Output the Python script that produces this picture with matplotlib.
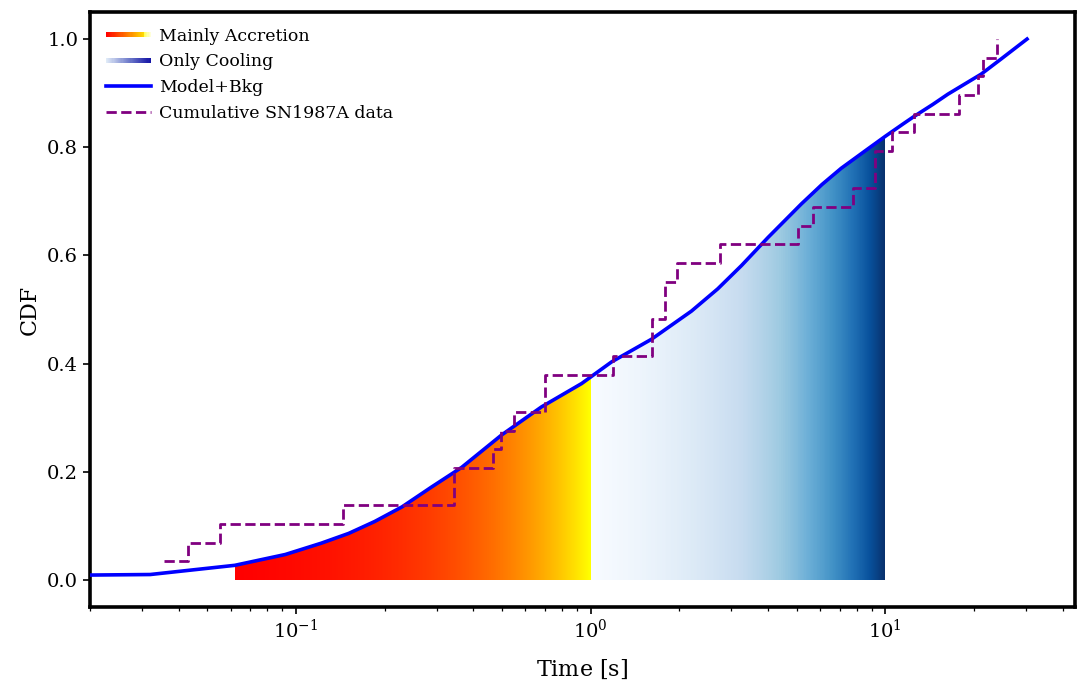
import numpy as np
import matplotlib
matplotlib.use("Agg")
import matplotlib.pyplot as plt
from matplotlib.patches import Polygon, Rectangle
from matplotlib.lines import Line2D
from matplotlib.legend_handler import HandlerBase
from matplotlib.colors import LinearSegmentedColormap

plt.rcParams['font.family'] = ['DejaVu Serif']
plt.rcParams['mathtext.fontset'] = 'dejavuserif'

# ---- data ----
model_t = [0.02, 0.032, 0.062, 0.092, 0.122, 0.151, 0.185, 0.229, 0.289, 0.365,
           0.499, 0.682, 0.932, 1.178, 1.61, 2.20, 2.7, 3.25, 4.0, 5.19, 6.1,
           7.09, 8.74, 10.0, 11.5, 12.54, 14.5, 16.32, 21.16, 24.73, 30.3]
model_cdf = [0.009, 0.010, 0.027, 0.047, 0.068, 0.086, 0.108, 0.135, 0.172, 0.208,
             0.268, 0.320, 0.363, 0.403, 0.445, 0.497, 0.538, 0.581, 0.633, 0.695,
             0.731, 0.761, 0.797, 0.820, 0.843, 0.857, 0.879, 0.898, 0.935, 0.963, 1.0]

event_t = [0.0356, 0.0430, 0.0551, 0.144, 0.344, 0.344, 0.468, 0.496, 0.550,
           0.700, 0.700, 1.194, 1.61, 1.61, 1.796, 1.796, 1.972, 2.759, 5.06,
           5.69, 7.77, 9.20, 9.20, 10.54, 12.57, 17.86, 20.62, 21.54, 23.97]
n_events = len(event_t)
event_cdf = [(i + 1) / n_events for i in range(n_events)]

accretion_range = (0.062, 1.0)
cooling_range = (1.0, 10.0)

# ---- figure ----
fig = plt.figure(figsize=(10.78, 6.81), dpi=100)
ax = fig.add_axes([0.0835, 0.1087, 0.9135, 0.8737])
ax.set_xscale('log')

mt = np.array(model_t)
mc = np.array(model_cdf)


def curve_at(t):
    return np.interp(np.log10(t), np.log10(mt), mc)


def gradient_fill(t0, t1, cmap, n=400):
    sel = (mt > t0) & (mt < t1)
    xs = np.concatenate([[t0], mt[sel], [t1]])
    ys = np.concatenate([[curve_at(t0)], mc[sel], [curve_at(t1)]])
    verts = list(zip(xs, ys)) + [(t1, 0.0), (t0, 0.0)]
    poly = Polygon(verts, closed=True, transform=ax.transData)
    xe = np.linspace(t0, t1, n + 1)
    ye = np.array([0.0, 1.05])
    C = np.linspace(0, 1, n).reshape(1, n)
    mesh = ax.pcolormesh(xe, ye, C, cmap=cmap, vmin=0, vmax=1,
                         shading='flat', zorder=1, antialiased=False,
                         linewidth=0)
    mesh.set_clip_path(poly)


gradient_fill(*accretion_range, plt.get_cmap('autumn'))
gradient_fill(*cooling_range, plt.get_cmap('Blues'))

ax.plot(mt, mc, color='blue', lw=2.6, zorder=3)
ax.step(event_t, event_cdf, where='post', color='purple', lw=2.0,
        ls=(0, (3.7, 1.6)), zorder=4)

ax.set_xlim(0.02, 44)
ax.set_ylim(-0.05, 1.05)

for s in ax.spines.values():
    s.set_linewidth(2.6)
ax.tick_params(axis='both', which='major', labelsize=14, length=5, width=1.2)
ax.tick_params(axis='both', which='minor', length=3, width=0.9)

ax.set_xlabel(r'Time $[\mathrm{s}]$', fontsize=16, labelpad=11)
ax.set_ylabel('CDF', fontsize=16, labelpad=5)


# ---- legend with gradient handles ----
class GradientHandle:
    def __init__(self, colors):
        self.colors = colors


class HandlerGradient(HandlerBase):
    def create_artists(self, legend, orig_handle, xdescent, ydescent,
                       width, height, fontsize, trans):
        cols = orig_handle.colors
        n = len(cols)
        th = height * 0.42
        y0 = -ydescent + height / 2 - th / 2
        arts = []
        for i, c in enumerate(cols):
            r = Rectangle((-xdescent + width * i / n, y0), width / n * 1.05, th,
                          facecolor=c, edgecolor='none', transform=trans)
            arts.append(r)
        return arts


acc_cols = [plt.get_cmap('autumn')(v) for v in np.linspace(0, 1, 40)]
acc_cols = acc_cols[:-6] + [(1, 1, 0.35 + 0.1 * k) for k in range(6)]
cool_cmap = LinearSegmentedColormap.from_list(
    'cool_h', [(0.88, 0.92, 0.97), (0.45, 0.5, 0.8), (0.08, 0.08, 0.65)])
cool_cols = [cool_cmap(v) for v in np.linspace(0, 1, 40)]

h1 = GradientHandle(acc_cols)
h2 = GradientHandle(cool_cols)
h3 = Line2D([], [], color='blue', lw=2.6)
h4 = Line2D([], [], color='purple', lw=2.0, ls=(0, (3.7, 1.6)))

ax.legend([h1, h2, h3, h4],
          ['Mainly Accretion', 'Only Cooling', 'Model+Bkg', 'Cumulative SN1987A data'],
          handler_map={GradientHandle: HandlerGradient()},
          loc='upper left', frameon=False, fontsize=12.5, handlelength=2.6,
          labelspacing=0.5, borderaxespad=0.5, handletextpad=0.45)

fig.savefig('out.png', dpi=100)
